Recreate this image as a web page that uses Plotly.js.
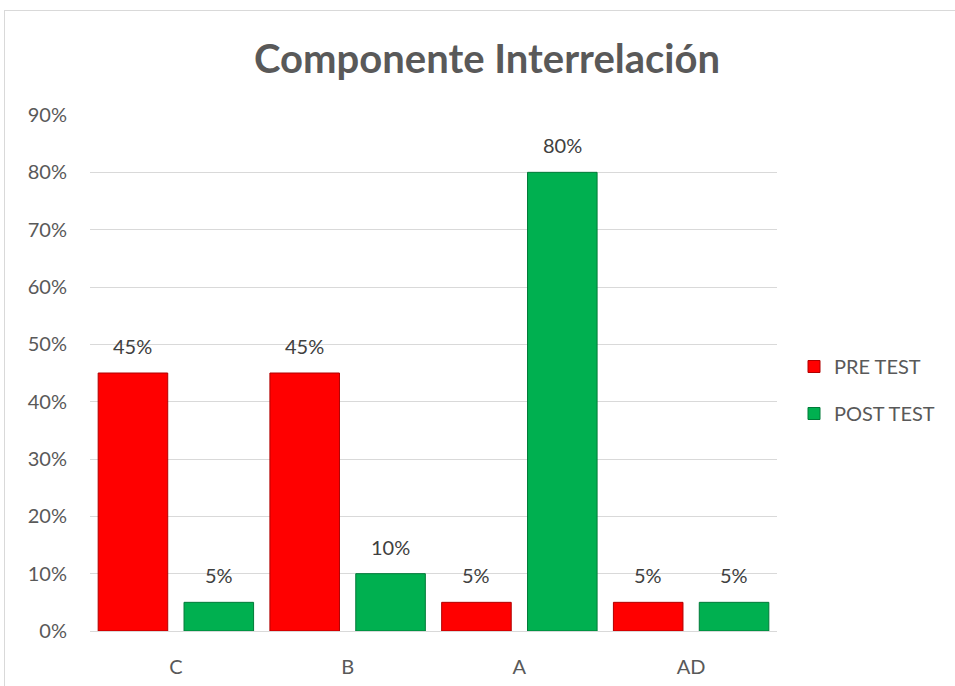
<!DOCTYPE html>
<html>
<head>
<meta charset="utf-8">
<script src="https://cdn.plot.ly/plotly-3.0.1.min.js"></script>
<style>
html,body{margin:0;padding:0;background:#fff;}
#wrap{position:relative;width:955px;height:686px;overflow:hidden;}
#chart{position:absolute;left:0;top:0;width:955px;height:686px;}
#frame{position:absolute;left:4px;top:10px;width:960px;height:700px;border:1px solid #d9d9d9;pointer-events:none;}
</style>
</head>
<body>
<div id="wrap"><div id="chart"></div><div id="frame"></div></div>
<script>
const categories = ["C", "B", "A", "AD"];
const preTest = [0.45, 0.45, 0.05, 0.05];
const postTest = [0.05, 0.10, 0.80, 0.05];
const seriesNames = ["PRE TEST", "POST TEST"];
const yTicks = [0, 0.1, 0.2, 0.3, 0.4, 0.5, 0.6, 0.7, 0.8, 0.9];

const W = 955, H = 686;
const margin = {l: 90, r: 178, t: 115, b: 55};
const plotW = W - margin.l - margin.r;
const plotH = H - margin.t - margin.b;
const slotPx = plotW / categories.length / 2;
const FONT = "Lato, 'Open Sans', sans-serif";

const colors = ["#ff0000", "#00b050"];
const lineColors = ["#b00000", "#007a38"];
const series = [preTest, postTest];

const traces = series.map((vals, i) => ({
  type: "bar",
  name: seriesNames[i],
  x: categories,
  y: vals,
  legendgroup: "g" + i,
  marker: {color: colors[i], line: {color: lineColors[i], width: 1}},
  hoverinfo: "skip"
}));

const annotations = [];
series.forEach((vals, i) => {
  vals.forEach((v, j) => {
    annotations.push({
      x: categories[j], y: v, xref: "x", yref: "y",
      text: Math.round(v * 100) + "%",
      showarrow: false, yanchor: "bottom",
      xshift: (i === 0 ? -1 : 1) * slotPx / 2,
      yshift: 13,
      font: {family: FONT, size: 20, color: "#404040"}
    });
  });
});

const layout = {
  width: W, height: H,
  margin: margin,
  paper_bgcolor: "rgba(0,0,0,0)",
  plot_bgcolor: "#fff",
  barmode: "group",
  bargap: 0,
  bargroupgap: 0.19,
  title: {
    text: "<b>Componente Interrelación</b>",
    font: {family: FONT, size: 40, color: "#595959"},
    x: 487 / W, xref: "container", xanchor: "center",
    y: 1 - 59 / H, yref: "container", yanchor: "middle"
  },
  xaxis: {
    type: "category",
    showgrid: false,
    showline: true, linecolor: "#d9d9d9", linewidth: 1,
    ticks: "",
    ticklabelstandoff: 18,
    tickfont: {family: FONT, size: 20, color: "#595959"},
    fixedrange: true
  },
  yaxis: {
    range: [0, 0.9],
    tickvals: yTicks,
    tickformat: ".0%",
    showgrid: true, gridcolor: "#d9d9d9", gridwidth: 1,
    zeroline: false, showline: false,
    ticks: "",
    ticklabelstandoff: 22,
    tickfont: {family: FONT, size: 20, color: "#595959"},
    fixedrange: true
  },
  legend: {
    x: (794 - margin.l) / plotW, xanchor: "left",
    y: (H - margin.b - 390) / plotH, yanchor: "middle",
    tracegroupgap: 18,
    font: {family: FONT, size: 20, color: "#595959"},
    itemwidth: 30
  },
  annotations: annotations,
  showlegend: true
};

Plotly.newPlot("chart", traces, layout, {displayModeBar: false, staticPlot: true});
</script>
</body>
</html>
